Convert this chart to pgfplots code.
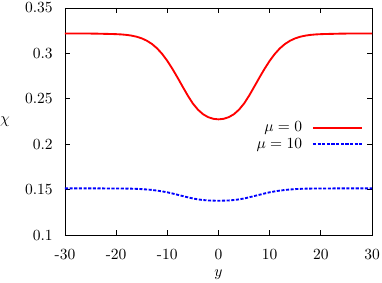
\documentclass[border=0pt]{standalone}
\usepackage{pgfplots}
\pgfplotsset{compat=1.18}
\begin{document}
\begin{tikzpicture}
\begin{axis}[
  scale only axis,
  width=198.1pt, height=146.5pt,
  xmin=-30, xmax=30, ymin=0.1, ymax=0.35,
  xtick={-30,-20,-10,0,10,20,30},
  xticklabels={-30,-20,-10,0,10,20,30},
  ytick={0.1,0.15,0.2,0.25,0.3,0.35},
  yticklabels={0.1,0.15,0.2,0.25,0.3,0.35},
  tick align=inside,
  major tick length=3pt,
  axis line style={black, line width=0.5pt},
  tick style={black, line width=0.5pt},
  xticklabel style={yshift=-5.3pt},
  yticklabel style={xshift=-4.4pt},
  xlabel={$y$},
  ylabel={$\chi$},
  xlabel style={at={(axis description cs:0.5,0)}, anchor=center, yshift=-25.8pt},
  ylabel style={rotate=-90, at={(axis description cs:0,0.5)}, anchor=center, xshift=-38.7pt},
  legend style={draw=none, fill=none, at={(0.971,0.436)}, anchor=east, inner sep=0pt,
    column sep=4.4pt, row sep=-1.4pt},
  legend cell align=right,
  legend plot pos=right,
  legend image code/.code={\draw[#1] (0pt,0pt) -- (31.6pt,0pt);},
]
\addplot[red, line width=1.2pt] coordinates {
(-30,0.3220)(-26,0.3219)(-24,0.3218)(-22,0.3215)(-21,0.3214)(-20,0.3212)(-19,0.3209)(-18,0.3204)(-17,0.3196)(-16,0.3184)(-15,0.3166)(-14,0.3140)(-13,0.3104)(-12,0.3056)(-11,0.2994)(-10,0.2918)(-9,0.2830)(-8,0.2734)(-7,0.2634)(-6,0.2536)(-5,0.2448)(-4,0.2380)(-3,0.2330)(-2,0.2298)(-1,0.2280)
(0,0.2274)
(1,0.2280)(2,0.2298)(3,0.2330)(4,0.2380)(5,0.2448)(6,0.2536)(7,0.2634)(8,0.2734)(9,0.2830)(10,0.2918)(11,0.2994)(12,0.3056)(13,0.3104)(14,0.3140)(15,0.3166)(16,0.3184)(17,0.3196)(18,0.3204)(19,0.3209)(20,0.3212)(21,0.3214)(22,0.3215)(24,0.3218)(26,0.3219)(30,0.3220)
};
\addlegendentry{$\mu=0$}
\addplot[blue, line width=1.2pt, dash pattern=on 2pt off 1pt] coordinates {
(-30,0.1514)(-24,0.1514)(-20,0.1513)(-18,0.1512)(-17,0.1511)(-16,0.1509)(-15,0.1506)(-14,0.1502)(-13,0.1497)(-12,0.1490)(-11,0.1481)(-10,0.1471)(-9,0.1458)(-8,0.1444)(-7,0.1430)(-6,0.1416)(-5,0.1403)(-4,0.1393)(-3,0.1386)(-2,0.1381)(-1,0.1379)
(0,0.1378)
(1,0.1379)(2,0.1381)(3,0.1386)(4,0.1393)(5,0.1403)(6,0.1416)(7,0.1430)(8,0.1444)(9,0.1458)(10,0.1471)(11,0.1481)(12,0.1490)(13,0.1497)(14,0.1502)(15,0.1506)(16,0.1509)(17,0.1511)(18,0.1512)(20,0.1513)(24,0.1514)(30,0.1514)
};
\addlegendentry{$\mu=10$}
\end{axis}
\pgfresetboundingbox
\path ([shift={(-41.9pt,-30.3pt)}]current axis.south west) rectangle ([shift={(6.45pt,5.16pt)}]current axis.north east);
\end{tikzpicture}
\end{document}
